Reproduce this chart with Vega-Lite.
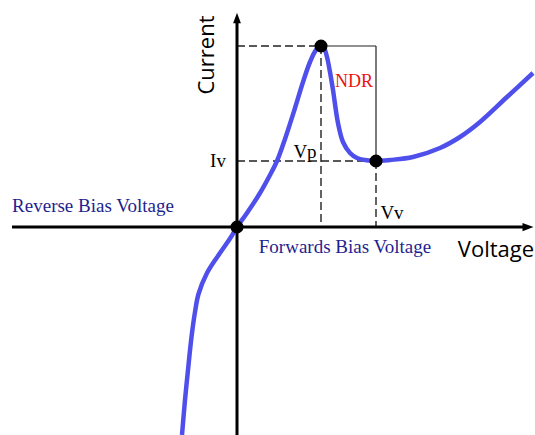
{
  "$schema": "https://vega.github.io/schema/vega-lite/v6.json",
  "width": 535,
  "height": 435,
  "autosize": {"type": "none"},
  "padding": 0,
  "background": "white",
  "config": {"view": {"stroke": null}},
  "datasets": {
    "curve": [
      {"v": -5.5, "i": -20.8}, {"v": -5.2, "i": -17.3}, {"v": -4.9, "i": -14.3},
      {"v": -4.55, "i": -11.0}, {"v": -4.2, "i": -8.5}, {"v": -3.85, "i": -6.7},
      {"v": -3.0, "i": -4.6}, {"v": -1.7, "i": -2.6}, {"v": -0.6, "i": -1.0},
      {"v": 0, "i": 0}, {"v": 1.0, "i": 1.4}, {"v": 2.3, "i": 3.4},
      {"v": 3.3, "i": 5.2}, {"v": 4.0, "i": 6.6}, {"v": 4.8, "i": 8.8},
      {"v": 5.8, "i": 11.9}, {"v": 6.6, "i": 14.5}, {"v": 7.3, "i": 16.5},
      {"v": 7.9, "i": 17.7}, {"v": 8.4, "i": 18.1},
      {"v": 8.7, "i": 17.9}, {"v": 9.0, "i": 17.0}, {"v": 9.3, "i": 15.5},
      {"v": 9.6, "i": 13.7}, {"v": 10.1, "i": 10.4}, {"v": 10.6, "i": 8.5},
      {"v": 11.3, "i": 7.4}, {"v": 12.0, "i": 6.9}, {"v": 12.8, "i": 6.7},
      {"v": 13.9, "i": 6.6}, {"v": 15.3, "i": 6.7},
      {"v": 17.6, "i": 7.0}, {"v": 20.3, "i": 7.9}, {"v": 22.3, "i": 9.0},
      {"v": 24.3, "i": 10.5}, {"v": 27.0, "i": 13.0}, {"v": 29.6, "i": 15.4}
    ],
    "guides": [
      {"kind": "dashed", "x": 0, "x2": 8.4, "y": 18.1, "y2": 18.1},
      {"kind": "solid", "x": 8.4, "x2": 13.9, "y": 18.1, "y2": 18.1},
      {"kind": "solid", "x": 13.9, "x2": 13.9, "y": 18.1, "y2": 6.6},
      {"kind": "dashed", "x": 13.9, "x2": 13.9, "y": 6.6, "y2": 0},
      {"kind": "dashed", "x": 0, "x2": 13.9, "y": 6.6, "y2": 6.6},
      {"kind": "dashed", "x": 8.4, "x2": 8.4, "y": 18.1, "y2": 0}
    ],
    "axes": [
      {"x": -22.5, "x2": 29.0, "y": 0, "y2": 0},
      {"x": 0, "x2": 0, "y": -20.8, "y2": 20.6}
    ],
    "points": [
      {"name": "origin", "v": 0, "i": 0},
      {"name": "peak", "v": 8.4, "i": 18.1},
      {"name": "valley", "v": 13.9, "i": 6.6}
    ],
    "arrowX": [{"x": 29.1, "y": 0}],
    "arrowY": [{"x": 0, "y": 20.9}],
    "sansLabels": [
      {"t": "Voltage", "x": 25.9, "y": -2.3, "angle": 0},
      {"t": "Current", "x": -3.0, "y": 17.2, "angle": 270}
    ],
    "blackLabels": [
      {"t": "Iv", "x": -1.9, "y": 6.6},
      {"t": "Vp", "x": 6.8, "y": 7.5},
      {"t": "Vv", "x": 15.5, "y": 1.4}
    ],
    "navyLabels": [
      {"t": "Reverse Bias Voltage", "x": -14.4, "y": 2.1},
      {"t": "Forwards Bias Voltage", "x": 10.8, "y": -2.0}
    ],
    "redLabels": [
      {"t": "NDR", "x": 11.7, "y": 14.5}
    ]
  },
  "layer": [
    {
      "data": {"name": "guides"},
      "transform": [{"filter": "datum.kind === 'dashed'"}],
      "mark": {"type": "rule", "color": "#222222", "strokeWidth": 1.4, "strokeDash": [8, 4]},
      "encoding": {
        "x": {"field": "x", "type": "quantitative", "scale": {"domain": [-23.7, 29.8], "nice": false, "zero": false}, "axis": null},
        "x2": {"field": "x2"},
        "y": {"field": "y", "type": "quantitative", "scale": {"domain": [-20.8, 22.7], "nice": false, "zero": false}, "axis": null},
        "y2": {"field": "y2"}
      }
    },
    {
      "data": {"name": "guides"},
      "transform": [{"filter": "datum.kind === 'solid'"}],
      "mark": {"type": "rule", "color": "#222222", "strokeWidth": 1.2},
      "encoding": {
        "x": {"field": "x", "type": "quantitative"},
        "x2": {"field": "x2"},
        "y": {"field": "y", "type": "quantitative"},
        "y2": {"field": "y2"}
      }
    },
    {
      "data": {"name": "axes"},
      "mark": {"type": "rule", "color": "black", "strokeWidth": 3},
      "encoding": {
        "x": {"field": "x", "type": "quantitative"},
        "x2": {"field": "x2"},
        "y": {"field": "y", "type": "quantitative"},
        "y2": {"field": "y2"}
      }
    },
    {
      "data": {"name": "arrowX"},
      "mark": {"type": "point", "shape": "M-1,-0.75L1,0L-1,0.75Z", "filled": true, "color": "black", "opacity": 1, "size": 121},
      "encoding": {
        "x": {"field": "x", "type": "quantitative"},
        "y": {"field": "y", "type": "quantitative"}
      }
    },
    {
      "data": {"name": "arrowY"},
      "mark": {"type": "point", "shape": "M0,-1L0.75,1L-0.75,1Z", "filled": true, "color": "black", "opacity": 1, "size": 110},
      "encoding": {
        "x": {"field": "x", "type": "quantitative"},
        "y": {"field": "y", "type": "quantitative"}
      }
    },
    {
      "data": {"name": "curve"},
      "mark": {"type": "line", "color": "#4f4fec", "strokeWidth": 4.5, "interpolate": "catmull-rom", "strokeCap": "butt"},
      "encoding": {
        "x": {"field": "v", "type": "quantitative"},
        "y": {"field": "i", "type": "quantitative"}
      }
    },
    {
      "data": {"name": "points"},
      "mark": {"type": "point", "shape": "circle", "filled": true, "color": "black", "opacity": 1, "size": 170},
      "encoding": {
        "x": {"field": "v", "type": "quantitative"},
        "y": {"field": "i", "type": "quantitative"}
      }
    },
    {
      "data": {"name": "sansLabels"},
      "mark": {"type": "text", "font": "Open Sans", "fontSize": 22, "color": "black", "align": "center", "baseline": "middle"},
      "encoding": {
        "x": {"field": "x", "type": "quantitative"},
        "y": {"field": "y", "type": "quantitative"},
        "text": {"field": "t"},
        "angle": {"field": "angle", "type": "quantitative", "scale": null}
      }
    },
    {
      "data": {"name": "blackLabels"},
      "mark": {"type": "text", "font": "Liberation Serif", "fontSize": 19, "color": "black", "align": "center", "baseline": "middle"},
      "encoding": {
        "x": {"field": "x", "type": "quantitative"},
        "y": {"field": "y", "type": "quantitative"},
        "text": {"field": "t"}
      }
    },
    {
      "data": {"name": "navyLabels"},
      "mark": {"type": "text", "font": "Liberation Serif", "fontSize": 19, "color": "#1f1f8f", "align": "center", "baseline": "middle"},
      "encoding": {
        "x": {"field": "x", "type": "quantitative"},
        "y": {"field": "y", "type": "quantitative"},
        "text": {"field": "t"}
      }
    },
    {
      "data": {"name": "redLabels"},
      "mark": {"type": "text", "font": "Liberation Serif", "fontSize": 18, "color": "#ee1111", "align": "center", "baseline": "middle"},
      "encoding": {
        "x": {"field": "x", "type": "quantitative"},
        "y": {"field": "y", "type": "quantitative"},
        "text": {"field": "t"}
      }
    }
  ]
}
